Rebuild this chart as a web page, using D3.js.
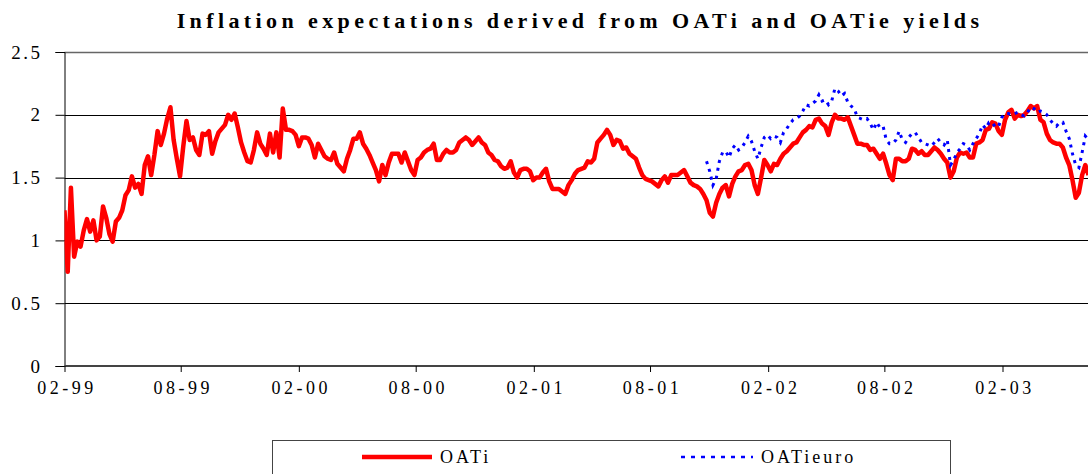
<!DOCTYPE html>
<html>
<head>
<meta charset="utf-8">
<script src="https://d3js.org/d3.v7.min.js"></script>
<style>
  body { margin: 0; background: #fff; }
</style>
</head>
<body>
<script>
// OATi break-even inflation, one reading every 5 days from 1 Feb 1999
var oatiValues = [
  1.24, 0.75, 1.42, 0.87, 0.99, 0.95, 1.08, 1.17, 1.07, 1.16,
  1.0, 1.03, 1.27, 1.18, 1.05, 0.99, 1.15, 1.18, 1.24, 1.36,
  1.4, 1.51, 1.42, 1.45, 1.37, 1.6, 1.67, 1.52, 1.68, 1.87,
  1.76, 1.85, 1.97, 2.06, 1.8, 1.65, 1.51, 1.75, 1.95, 1.8,
  1.82, 1.72, 1.68, 1.85, 1.84, 1.87, 1.69, 1.79, 1.86, 1.89,
  1.92, 2.0, 1.96, 2.01, 1.9, 1.78, 1.7, 1.63, 1.62, 1.72,
  1.86, 1.77, 1.73, 1.68, 1.85, 1.7, 1.86, 1.66, 2.05, 1.88,
  1.88, 1.87, 1.84, 1.75, 1.82, 1.82, 1.81, 1.76, 1.66, 1.77,
  1.72, 1.67, 1.65, 1.64, 1.7, 1.61, 1.58, 1.55, 1.65, 1.72,
  1.81, 1.81, 1.86, 1.77, 1.73, 1.68, 1.62, 1.56, 1.47, 1.6,
  1.52, 1.62, 1.69, 1.69, 1.69, 1.62, 1.7, 1.63, 1.56, 1.52,
  1.64, 1.66, 1.7, 1.72, 1.73, 1.77, 1.64, 1.64, 1.69, 1.72,
  1.7, 1.7, 1.72, 1.78, 1.8, 1.82, 1.8, 1.76, 1.79, 1.82,
  1.78, 1.76, 1.7, 1.68, 1.64, 1.63, 1.59, 1.57, 1.58, 1.63,
  1.54, 1.5, 1.56, 1.57, 1.57, 1.55, 1.48, 1.5, 1.5, 1.54,
  1.57, 1.47, 1.41, 1.41, 1.41, 1.39, 1.37, 1.44, 1.48, 1.53,
  1.56, 1.57, 1.58, 1.63, 1.62, 1.65, 1.78, 1.81, 1.84, 1.88,
  1.84, 1.76, 1.8, 1.79, 1.73, 1.74, 1.69, 1.67, 1.65, 1.58,
  1.52, 1.49, 1.48, 1.47, 1.45, 1.43, 1.48, 1.51, 1.46, 1.52,
  1.52, 1.52, 1.54, 1.56, 1.51, 1.46, 1.44, 1.43, 1.41, 1.37,
  1.32, 1.22, 1.19, 1.3, 1.37, 1.42, 1.44, 1.35, 1.45, 1.51,
  1.55, 1.56, 1.6, 1.61, 1.56, 1.44, 1.37, 1.5, 1.64, 1.6,
  1.55, 1.61, 1.6, 1.65, 1.69, 1.71, 1.74, 1.77, 1.78, 1.82,
  1.86, 1.88, 1.91, 1.9, 1.96, 1.97, 1.93, 1.91, 1.84, 1.94,
  2.0, 1.97, 1.97, 1.96, 1.98, 1.91, 1.84, 1.77, 1.77, 1.76,
  1.76, 1.72, 1.73, 1.69, 1.65, 1.69, 1.61, 1.52, 1.48, 1.65,
  1.65, 1.63, 1.63, 1.65, 1.73, 1.72, 1.69, 1.71, 1.68, 1.68,
  1.71, 1.74, 1.72, 1.69, 1.65, 1.62, 1.5, 1.55, 1.66, 1.7,
  1.69, 1.7, 1.66, 1.66, 1.77, 1.78, 1.8, 1.88, 1.89, 1.94,
  1.93, 1.87, 1.84, 1.96, 2.02, 2.04, 1.97, 2.0, 1.99, 2.0,
  2.03, 2.07, 2.05, 2.07, 1.96, 1.94, 1.85, 1.8, 1.78, 1.77,
  1.77, 1.74, 1.66, 1.6, 1.48, 1.34, 1.38, 1.52, 1.6, 1.52
];

// OATieuro, same 5-day spacing, starting 1000 days later
var oatieValues = [
  1.63, 1.55, 1.44, 1.49, 1.63, 1.7, 1.71, 1.66, 1.73, 1.76,
  1.72, 1.74, 1.78, 1.83, 1.79, 1.71, 1.65, 1.74, 1.82, 1.84,
  1.81, 1.83, 1.82, 1.78, 1.86, 1.89, 1.93, 1.96, 1.97, 1.99,
  2.03, 2.08, 2.07, 2.09, 2.11, 2.16, 2.11, 2.12, 2.08, 2.11,
  2.21, 2.19, 2.15, 2.17, 2.1, 2.07, 2.05, 1.98, 1.97, 1.96,
  1.97, 1.93, 1.88, 1.94, 1.9, 1.91, 1.8, 1.77, 1.77, 1.8,
  1.87, 1.8, 1.78, 1.82, 1.85, 1.86, 1.82, 1.78, 1.77, 1.76,
  1.75, 1.78, 1.81, 1.78, 1.76, 1.8, 1.6, 1.64, 1.7, 1.73,
  1.77, 1.76, 1.72, 1.77, 1.81, 1.85, 1.92, 1.89, 1.94, 1.94,
  1.9, 1.91, 1.98, 2.01, 2.01, 2.0, 2.01, 2.02, 2.0, 1.99,
  2.02, 2.06, 2.05, 2.02, 2.03, 2.02, 2.0, 1.96, 1.93, 1.91,
  1.94, 1.94, 1.87, 1.81, 1.69, 1.6, 1.58, 1.7, 1.83, 1.8
];

var startDate = new Date(Date.UTC(1999, 1, 1));
var stepDays = 5;
var oatieOffsetDays = 1000;

var tickDates = ["1999-02-01", "1999-08-01", "2000-02-01", "2000-08-01", "2001-02-01",
                 "2001-08-01", "2002-02-01", "2002-08-01", "2003-02-01"];
var yTicks = [0, 0.5, 1, 1.5, 2, 2.5];

var seriesNames = ["OATi", "OATieuro"];

var width = 1088, height = 474;
var plotLeft = 64.5, plotTop = 52, plotBottom = 366;
var serif = "'Liberation Serif', 'Times New Roman', Times, 'DejaVu Serif', serif";

var x = d3.scaleUtc()
    .domain([startDate, new Date(Date.UTC(2003, 1, 1))])
    .range([plotLeft, 1002.5]);
var y = d3.scaleLinear().domain([0, 2.5]).range([plotBottom, plotTop]);

var oati = oatiValues.map(function(v, i) {
  return {date: d3.utcDay.offset(startDate, i * stepDays), value: v};
});
var oatie = oatieValues.map(function(v, i) {
  return {date: d3.utcDay.offset(startDate, oatieOffsetDays + i * stepDays), value: v};
});

var svg = d3.select("body").append("svg")
    .attr("width", width)
    .attr("height", height)
    .style("display", "block");

// title
svg.append("text")
    .attr("x", 580)
    .attr("y", 28)
    .attr("text-anchor", "middle")
    .style("font-family", serif)
    .style("font-size", "22px")
    .style("font-weight", "bold")
    .style("letter-spacing", "4.4px")
    .text("Inflation expectations derived from OATi  and OATie yields");

// gridlines
svg.append("g").selectAll("line").data(yTicks.slice(1))
  .enter().append("line")
    .attr("x1", plotLeft).attr("x2", width)
    .attr("y1", function(d) { return Math.round(y(d)) + 0.5; })
    .attr("y2", function(d) { return Math.round(y(d)) + 0.5; })
    .style("stroke", function(d) { return d === 2.5 ? "#666" : "#000"; })
    .style("stroke-width", function(d) { return d === 2.5 ? 1.5 : 1; });

// y axis
var yAxis = svg.append("g")
    .attr("transform", "translate(" + plotLeft + ",0)")
    .call(d3.axisLeft(y).tickValues(yTicks).tickSize(9).tickPadding(13)
      .tickFormat(function(d) { return String(d); }));
yAxis.select(".domain").attr("stroke", "#000");
yAxis.selectAll("text")
    .style("font-family", serif)
    .style("font-size", "19px")
    .style("letter-spacing", "2.5px")
    .attr("fill", "#000");

// x axis
var xAxis = svg.append("g")
    .attr("transform", "translate(0," + plotBottom + ")")
    .call(d3.axisBottom(x).tickValues(tickDates.map(function(d) { return new Date(d + "T00:00:00Z"); }))
      .tickSize(6).tickSizeOuter(0).tickPadding(9)
      .tickFormat(d3.utcFormat("%m-%y")));
xAxis.select(".domain").attr("stroke", "#444").attr("stroke-width", 2).attr("d", "M" + plotLeft + ",0H" + width);
xAxis.selectAll("text")
    .style("font-family", serif)
    .style("font-size", "18px")
    .style("letter-spacing", "3.5px")
    .attr("dx", "2px")
    .attr("fill", "#000");

svg.append("clipPath").attr("id", "plot")
  .append("rect").attr("x", plotLeft).attr("y", 0).attr("width", width - plotLeft).attr("height", plotBottom);

var line = d3.line()
    .x(function(d) { return x(d.date); })
    .y(function(d) { return y(d.value); });

svg.append("path")
    .datum(oati)
    .attr("clip-path", "url(#plot)")
    .attr("d", line)
    .style("fill", "none")
    .style("stroke", "#ff0000")
    .style("stroke-width", 4.5)
    .style("stroke-linejoin", "round");

svg.append("path")
    .datum(oatie)
    .attr("clip-path", "url(#plot)")
    .attr("d", line)
    .style("fill", "none")
    .style("stroke", "#0000ff")
    .style("stroke-width", 3)
    .style("stroke-dasharray", "3,5");

// legend
var legend = svg.append("g");
legend.append("rect")
    .attr("x", 272.5).attr("y", 440.5)
    .attr("width", 678).attr("height", 60)
    .style("fill", "#fff")
    .style("stroke", "#444");

var legendItems = [
  {name: seriesNames[0], x1: 362, x2: 432, color: "#ff0000", w: 4.5, dash: null},
  {name: seriesNames[1], x1: 681, x2: 753, color: "#0000ff", w: 2.5, dash: "4,6"}
];
legendItems.forEach(function(d) {
  legend.append("line")
      .attr("x1", d.x1).attr("x2", d.x2)
      .attr("y1", 457).attr("y2", 457)
      .style("stroke", d.color)
      .style("stroke-width", d.w)
      .style("stroke-dasharray", d.dash);
  legend.append("text")
      .attr("x", d.x2 + 8)
      .attr("y", 463)
      .style("font-family", serif)
      .style("font-size", "18px")
      .style("letter-spacing", "3px")
      .text(d.name);
});
</script>
</body>
</html>
